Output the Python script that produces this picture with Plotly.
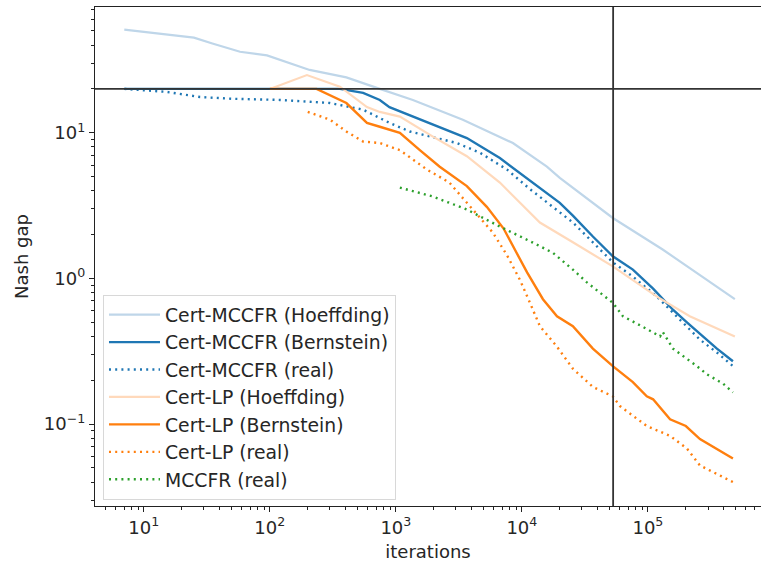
import plotly.graph_objects as go
import numpy as np

# ---- data ----
mccfr_hoeff_x = [7, 25, 35, 58, 95, 136, 207, 405, 590, 746, 1365, 3400, 8490, 15800, 20000, 36600, 52700, 131000, 490000]
mccfr_hoeff_y = [51, 45, 41, 36, 34, 30.6, 27, 24, 21.3, 20, 16.8, 12.3, 8.5, 5.85, 4.9, 3.3, 2.6, 1.58, 0.72]

mccfr_bern_x = [7, 360, 550, 746, 890, 1290, 1970, 3660, 6690, 12100, 20000, 25400, 36600, 52700, 76000, 110000, 158000, 204000, 353000, 473000]
mccfr_bern_y = [20, 20, 18.8, 16.8, 15, 13.2, 11.3, 9.2, 6.7, 4.6, 3.3, 2.7, 1.94, 1.42, 1.15, 0.85, 0.61, 0.5, 0.33, 0.27]

mccfr_real_x = [7, 15, 28, 51, 120, 300, 550, 890, 1290, 1860, 3050, 4640, 7600, 11600, 14700, 25400, 36600, 52700, 76000, 118000, 180000, 259000, 353000, 473000]
mccfr_real_y = [20, 19.1, 17.6, 17.1, 16.8, 16, 14.4, 11.7, 10.2, 9.4, 8.5, 7.3, 5.6, 4.1, 3.5, 2.42, 1.77, 1.29, 1.03, 0.75, 0.52, 0.38, 0.31, 0.25]

lp_hoeff_x = [100, 197, 360, 590, 746, 1076, 1970, 3660, 6690, 11000, 13900, 25400, 52700, 118000, 215000, 490000]
lp_hoeff_y = [20, 24.9, 20.7, 15.0, 13.9, 12.9, 9.4, 6.9, 4.55, 2.97, 2.42, 1.77, 1.21, 0.75, 0.55, 0.40]

lp_bern_x = [100, 235, 405, 590, 746, 1076, 1550, 2230, 3660, 5270, 7160, 9080, 11000, 14700, 19000, 25400, 36600, 52700, 76000, 98000, 110000, 150000, 200000, 259000, 473000]
lp_bern_y = [20, 20, 16, 11.7, 11, 10, 7.6, 5.85, 4.3, 3.1, 2.2, 1.5, 1.1, 0.72, 0.55, 0.47, 0.33, 0.25, 0.194, 0.155, 0.148, 0.108, 0.097, 0.079, 0.058]

lp_real_x = [200, 300, 405, 550, 746, 1076, 1760, 2660, 4080, 5870, 7600, 9640, 11600, 13900, 19000, 25400, 36600, 52700, 60000, 98000, 150000, 204000, 259000, 473000]
lp_real_y = [13.9, 12.3, 10.2, 8.7, 8.5, 7.6, 5.6, 4.55, 2.97, 2.07, 1.45, 0.98, 0.68, 0.47, 0.34, 0.24, 0.18, 0.155, 0.133, 0.097, 0.083, 0.068, 0.052, 0.04]

cfr_real_x = [1076, 1970, 3660, 6690, 12100, 17600, 25400, 32800, 52700, 63400, 98000, 125000, 131000, 158000, 245000, 293000, 394000, 473000]
cfr_real_y = [4.2, 3.65, 2.97, 2.27, 1.77, 1.5, 1.15, 0.94, 0.68, 0.55, 0.45, 0.40, 0.43, 0.33, 0.25, 0.22, 0.19, 0.165]

hline_y = 20
vline_x = 53000

x_tickvals = [10, 100, 1000, 10000, 100000]
x_ticktext = ["10<sup>1</sup>", "10<sup>2</sup>", "10<sup>3</sup>", "10<sup>4</sup>", "10<sup>5</sup>"]
y_tickvals = [0.1, 1, 10]
y_ticktext = ["10<sup>\u22121</sup>", "10<sup>0</sup>", "10<sup>1</sup>"]

BLUE = "#1f77b4"
ORANGE = "#ff7f0e"
GREEN = "#2ca02c"
LBLUE = "#bfd6e9"
LORANGE = "#ffd9bb"
DOT = "2px,4.2px"

series = [
    ("Cert-MCCFR (Hoeffding)", mccfr_hoeff_x, mccfr_hoeff_y, LBLUE, "solid", 2.2),
    ("Cert-MCCFR (Bernstein)", mccfr_bern_x, mccfr_bern_y, BLUE, "solid", 2.4),
    ("Cert-MCCFR (real)", mccfr_real_x, mccfr_real_y, BLUE, DOT, 2.4),
    ("Cert-LP (Hoeffding)", lp_hoeff_x, lp_hoeff_y, LORANGE, "solid", 2.2),
    ("Cert-LP (Bernstein)", lp_bern_x, lp_bern_y, ORANGE, "solid", 2.4),
    ("Cert-LP (real)", lp_real_x, lp_real_y, ORANGE, DOT, 2.4),
    ("MCCFR (real)", cfr_real_x, cfr_real_y, GREEN, DOT, 2.4),
]

fig = go.Figure()
for i, (name, xs, ys, col, dash, w) in enumerate(series):
    fig.add_trace(go.Scatter(x=xs, y=ys, mode="lines", name=name,
                             line=dict(color=col, dash=dash, width=w)))

fig.add_hline(y=hline_y, line=dict(color="#333333", width=1.8))
fig.add_vline(x=vline_x, line=dict(color="#333333", width=1.8))

minor_x = [m * 10 ** d for d in range(0, 6) for m in range(2, 10)]
minor_y = [m * 10 ** d for d in range(-2, 2) for m in range(2, 10)]

FONT = "DejaVu Sans"
fig.update_layout(
    width=761, height=568,
    margin=dict(l=95, r=0, t=7, b=62, autoexpand=False),
    paper_bgcolor="white", plot_bgcolor="white",
    font=dict(family=FONT, size=18, color="#262626"),
    showlegend=True,
    legend=dict(x=0.012, y=0.423, xanchor="left", yanchor="top",
                bgcolor="rgba(255,255,255,0.85)", bordercolor="#d8d8d8", borderwidth=1,
                font=dict(family=FONT, size=18.8, color="#262626"),
                itemwidth=51),
    xaxis=dict(type="log", range=[np.log10(4.1), np.log10(7.9e5)],
               showgrid=False, zeroline=False,
               showline=True, linecolor="#222", linewidth=1.3, mirror=True,
               ticks="outside", ticklen=5, tickwidth=1.2, tickcolor="#222",
               tickmode="array", tickvals=x_tickvals, ticktext=x_ticktext,
               tickfont=dict(family=FONT, size=18, color="#262626"),
               minor=dict(tickmode="array", tickvals=minor_x, ticks="outside",
                          ticklen=3, tickwidth=1, tickcolor="#222", showgrid=False),
               title=dict(text="iterations", standoff=8,
                          font=dict(family=FONT, size=18, color="#262626")),
               automargin=False),
    yaxis=dict(type="log", range=[np.log10(0.0274), np.log10(73)],
               showgrid=False, zeroline=False,
               showline=True, linecolor="#222", linewidth=1.3,
               ticks="outside", ticklen=5, tickwidth=1.2, tickcolor="#222",
               tickmode="array", tickvals=y_tickvals, ticktext=y_ticktext,
               tickfont=dict(family=FONT, size=18, color="#262626"),
               minor=dict(tickmode="array", tickvals=minor_y, ticks="outside",
                          ticklen=3, tickwidth=1, tickcolor="#222", showgrid=False),
               title=dict(text="Nash gap", standoff=10,
                          font=dict(family=FONT, size=18, color="#262626")),
               automargin=False),
)

fig.write_html("out.html", config={"displayModeBar": False},
               post_script="document.body.style.margin='0px';document.body.style.overflow='hidden';")
